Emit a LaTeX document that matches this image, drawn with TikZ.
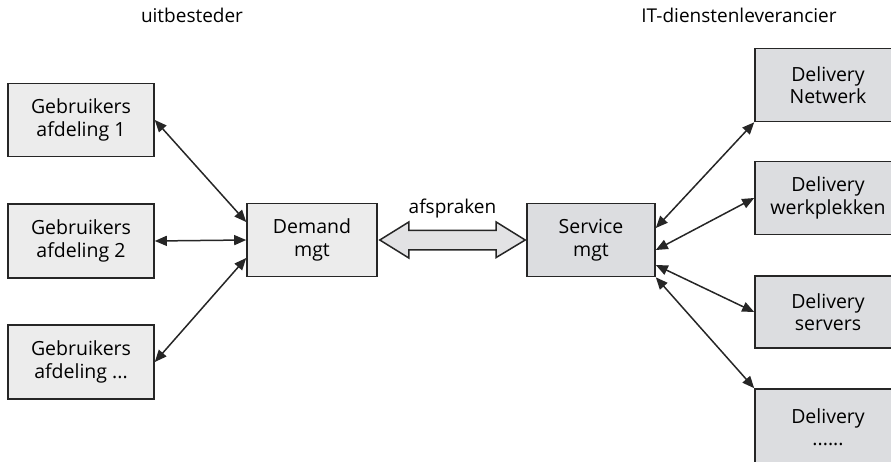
\documentclass[tikz,border=0pt]{standalone}
\usepackage{fontspec}
\setmainfont{Open Sans}
\usetikzlibrary{arrows.meta,calc}

\definecolor{lightbox}{HTML}{ECECEC}
\definecolor{darkbox}{HTML}{DCDDE0}
\definecolor{edge}{HTML}{262626}
\definecolor{pipe}{HTML}{E2E2E4}

\tikzset{
  box/.style={draw=edge, line width=1.6pt, rectangle, align=center,
    minimum width=146pt, minimum height=73pt, inner sep=0pt,
    font=\fontsize{19.5}{22.5}\selectfont},
  userbox/.style={box, fill=lightbox},
  supplybox/.style={box, fill=darkbox},
  link/.style={line width=1.5pt, draw=edge,
    {Triangle[length=12pt,width=10pt]}-{Triangle[length=12pt,width=10pt]}},
  heading/.style={font=\fontsize{19}{22}\selectfont, inner sep=0pt}
}

\begin{document}
\begin{tikzpicture}[x=1pt,y=-1pt]
  \useasboundingbox (0,0) rectangle (891,462);
  \clip (0,0) rectangle (891,462);

  % column headings
  \node[heading, anchor=base] (hleft) at (192,23) {uitbesteder};
  \node[heading, anchor=base] (hright) at (739,23) {IT-dienstenleverancier};

  % user departments
  \node[userbox] (g1) at (81,120) {Gebruikers\\afdeling 1};
  \node[userbox, minimum height=74pt] (g2) at (81,241) {Gebruikers\\afdeling 2};
  \node[userbox, minimum height=74pt] (g3) at (81,362) {Gebruikers\\afdeling ...};

  % demand and service management
  \node[userbox, minimum width=130pt] (dem) at (312,240) {Demand\\mgt};
  \node[supplybox, minimum width=128pt] (svc) at (591,240) {Service\\mgt};

  % delivery units
  \node[supplybox] (d1) at (828,85) {Delivery\\Netwerk};
  \node[supplybox] (d2) at (828,198) {Delivery\\werkplekken};
  \node[supplybox, minimum height=72pt] (d3) at (828,312) {Delivery\\servers};
  \node[supplybox, minimum height=76pt] (d4) at (828,427) {Delivery\\......};

  % links between departments and demand management
  \draw[link] (g1.east) -- ($(dem.west)+(0,-18)$);
  \draw[link] (g2.east) -- (dem.west);
  \draw[link] (g3.east) -- ($(dem.west)+(0,18)$);

  % links between service management and delivery units
  \draw[link] ($(svc.east)+(0,-12)$) -- (d1.south west);
  \draw[link] ($(svc.east)+(0,10)$) -- (d2.west);
  \draw[link] ($(svc.east)+(0,25)$) -- (d3.west);
  \draw[link] (svc.south east) -- (d4.north west);

  % agreement: wide double arrow
  \coordinate (pl) at ($(dem.east)+(2,0)$);
  \coordinate (pr) at ($(svc.west)+(-1,0)$);
  \draw[draw=edge, line width=1.5pt, fill=pipe, line join=miter]
    (pl) -- ++(29,-18) -- ++(0,8.5) -- ($(pr)+(-29,-9.5)$) -- ++(0,-8.5)
    -- (pr) -- ++(-29,17.5) -- ++(0,-7.5) -- ($(pl)+(29,10)$) -- ++(0,8) -- cycle;
  \node[heading, anchor=base] (agr) at ($(pl)!0.5!(pr)+(0,-26)$) {afspraken};
\end{tikzpicture}
\end{document}
